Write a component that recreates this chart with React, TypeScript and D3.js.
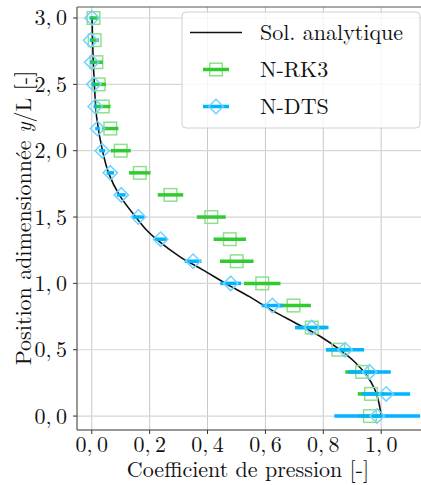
import React from 'react';
import * as d3 from 'd3';

// y/L positions of the numerical samples
const Y_POS = [3.0, 2.833, 2.667, 2.5, 2.333, 2.167, 2.0, 1.833, 1.667, 1.5, 1.333, 1.167, 1.0, 0.833, 0.667, 0.5, 0.333, 0.167, 0.0];
// N-RK3 pressure coefficient and its horizontal error
const RK3_X = [0.006, 0.01, 0.016, 0.024, 0.038, 0.064, 0.1, 0.166, 0.272, 0.413, 0.477, 0.501, 0.589, 0.697, 0.76, 0.852, 0.934, 0.965, 0.961];
const RK3_ERR = [0.014, 0.015, 0.022, 0.025, 0.027, 0.028, 0.035, 0.037, 0.044, 0.05, 0.056, 0.058, 0.063, 0.06, 0.05, 0.04, 0.058, 0.046, 0.04];
// N-DTS pressure coefficient and its horizontal error
const DTS_X = [0.001, -0.004, 0.0, 0.007, 0.012, 0.02, 0.036, 0.064, 0.102, 0.161, 0.238, 0.35, 0.48, 0.624, 0.76, 0.875, 0.96, 1.017, 0.986];
const DTS_ERR = [0.003, 0.003, 0.004, 0.005, 0.006, 0.008, 0.01, 0.013, 0.015, 0.02, 0.022, 0.029, 0.036, 0.037, 0.058, 0.066, 0.073, 0.083, 0.148];
// analytic solution
const ANA_Y = [3.0, 2.75, 2.5, 2.25, 2.0, 1.833, 1.667, 1.5, 1.4, 1.333, 1.2, 1.1, 1.0, 0.9, 0.8, 0.7, 0.6, 0.5, 0.4, 0.3, 0.2, 0.1, 0.0];
const ANA_X = [0.001, 0.004, 0.009, 0.017, 0.037, 0.058, 0.095, 0.152, 0.19, 0.223, 0.305, 0.385, 0.462, 0.545, 0.62, 0.705, 0.79, 0.857, 0.912, 0.952, 0.978, 0.992, 1.0];

const X_TICKS = [0, 0.2, 0.4, 0.6, 0.8, 1.0];
const Y_TICKS = [0, 0.5, 1.0, 1.5, 2.0, 2.5, 3.0];
const SERIES_LABELS = ['Sol. analytique', 'N-RK3', 'N-DTS'];
const X_LABEL = 'Coefficient de pression [-]';

const GREEN = '#2fcb2f';
const GREEN_LIGHT = '#8ee08e';
const BLUE = '#00b4ff';
const BLUE_LIGHT = '#6fd2ff';
const TXT: React.CSSProperties = { fontFamily: '"Latin Modern Roman"', fontSize: 22 };

const fmt = (v: number) => v.toFixed(1).replace('.', ',\u2009');

function Square({ cx, cy, s }: { cx: number; cy: number; s: number }) {
  return <rect x={cx - s} y={cy - s} width={2 * s} height={2 * s} fill="none" stroke={GREEN_LIGHT} strokeWidth={1.5} />;
}
function Diamond({ cx, cy, s }: { cx: number; cy: number; s: number }) {
  const d = `M${cx},${cy - s}L${cx + s},${cy}L${cx},${cy + s}L${cx - s},${cy}Z`;
  return <path d={d} fill="none" stroke={BLUE_LIGHT} strokeWidth={1.5} />;
}

export default function App() {
  const W = 421, H = 485;
  const L = 77, R = 421, T = 7, B = 430;
  const x = d3.scaleLinear().domain([-0.051, 1.1375]).range([L, R]);
  const y = d3.scaleLinear().domain([-0.105, 3.083]).range([B, T]);
  const idx = ANA_Y.map((_, i) => i);
  const line = d3.line<number>().x(i => x(ANA_X[i])).y(i => y(ANA_Y[i])).curve(d3.curveCatmullRom.alpha(0.5));

  const legX = 182, legY = 12, legW = 238, legH = 116;

  return (
    <svg width={W} height={H} style={{ position: 'absolute', left: 0, top: 0, background: '#fff' }}>
      <defs>
        <clipPath id="plotclip"><rect x={L} y={T} width={R - L} height={B - T} /></clipPath>
      </defs>
      {/* grid */}
      {X_TICKS.map(t => <line key={'gx' + t} x1={x(t)} x2={x(t)} y1={T} y2={B} stroke="#c8c8c8" strokeWidth={1} />)}
      {Y_TICKS.map(t => <line key={'gy' + t} x1={L} x2={R} y1={y(t)} y2={y(t)} stroke="#d6d6d6" strokeWidth={1.2} />)}

      <g clipPath="url(#plotclip)">
        <path d={line(idx) || ''} fill="none" stroke="#111" strokeWidth={1.6} />
        {Y_POS.map((v, i) => (
          <g key={'rk' + i}>
            <Square cx={x(RK3_X[i])} cy={y(v)} s={6.3} />
            <line x1={x(RK3_X[i] - RK3_ERR[i])} x2={x(RK3_X[i] + RK3_ERR[i])} y1={y(v)} y2={y(v)} stroke={GREEN} strokeWidth={3.5} />
          </g>
        ))}
        {Y_POS.map((v, i) => (
          <g key={'dt' + i}>
            <line x1={x(DTS_X[i] - DTS_ERR[i])} x2={x(DTS_X[i] + DTS_ERR[i])} y1={y(v)} y2={y(v)} stroke={BLUE} strokeWidth={3.5} />
            <Diamond cx={x(DTS_X[i])} cy={y(v)} s={7.2} />
          </g>
        ))}
      </g>

      {/* spines */}
      <line x1={L} x2={L} y1={T} y2={B} stroke="#333" strokeWidth={1} />
      <line x1={L} x2={R} y1={B} y2={B} stroke="#333" strokeWidth={1} />
      <line x1={L} x2={R} y1={T} y2={T} stroke="#555" strokeWidth={1} />

      {/* ticks */}
      {X_TICKS.map(t => (
        <g key={'xt' + t}>
          <line x1={x(t)} x2={x(t)} y1={B} y2={B + 4} stroke="#333" />
          <text x={x(t)} y={452} textAnchor="middle" style={TXT} fill="#111">{fmt(t)}</text>
        </g>
      ))}
      {Y_TICKS.map(t => (
        <g key={'yt' + t}>
          <line x1={L - 4} x2={L} y1={y(t)} y2={y(t)} stroke="#333" />
          <text x={67} y={y(t)} dy="0.34em" textAnchor="end" style={TXT} fill="#111">{fmt(t)}</text>
        </g>
      ))}

      <text x={248} y={477} textAnchor="middle" style={TXT} fill="#111">{X_LABEL}</text>
      <text transform={`translate(31,218) rotate(-90)`} textAnchor="middle" style={TXT} fill="#111">
        Position adimensionnée <tspan fontStyle="italic">y</tspan>/L [-]
      </text>

      {/* legend */}
      <rect x={legX} y={legY} width={legW} height={legH} rx={4} fill="#fff" fillOpacity={0.8} stroke="#d0d0d0" strokeWidth={1} />
      <line x1={190} x2={242} y1={32.5} y2={32.5} stroke="#111" strokeWidth={1.6} />
      <Square cx={216} cy={69.5} s={6.3} />
      <line x1={203} x2={229} y1={69.5} y2={69.5} stroke={GREEN} strokeWidth={3.5} />
      <line x1={203} x2={229} y1={106.5} y2={106.5} stroke={BLUE} strokeWidth={3.5} />
      <Diamond cx={216} cy={106.5} s={7.2} />
      {SERIES_LABELS.map((s, i) => (
        <text key={s} x={260} y={39.5 + i * 37.3} style={TXT} fill="#111">{s}</text>
      ))}
    </svg>
  );
}
